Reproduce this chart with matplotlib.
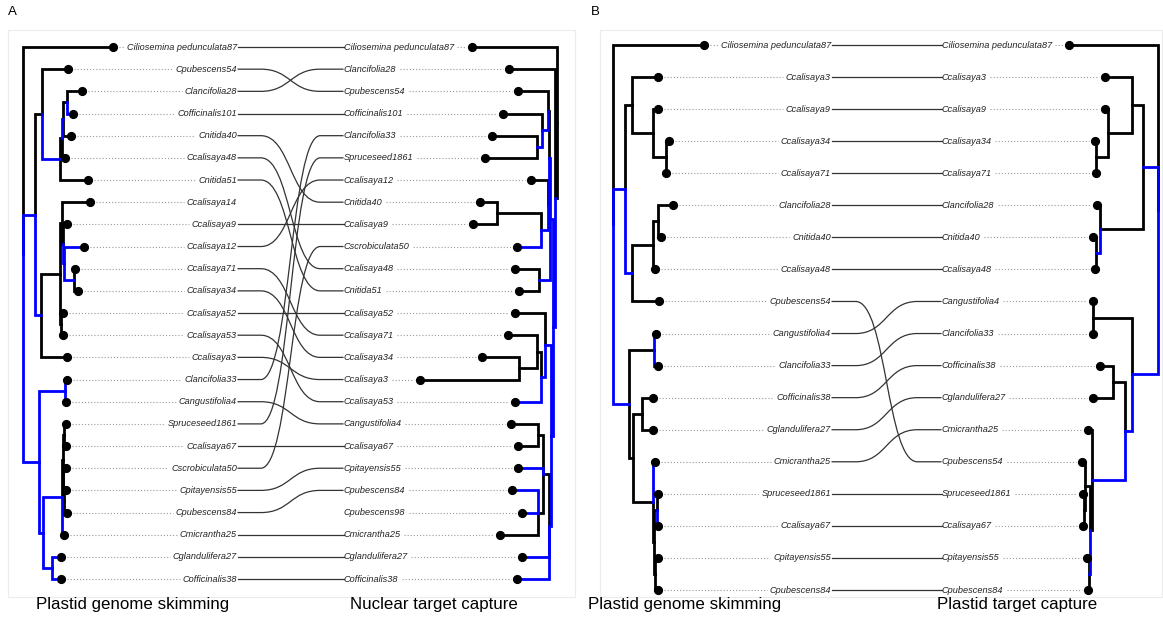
import matplotlib
matplotlib.use("Agg")
import matplotlib.pyplot as plt
from matplotlib.path import Path
from matplotlib.patches import PathPatch, Rectangle

plt.rcParams['font.family'] = ['Liberation Sans', 'DejaVu Sans']

# trees as newick, branch lengths in plot units, "*" = blue branch
tree_a_left = """
(Ciliosemina_pedunculata87:90,
 ((Cpubescens54:26,
   ((((Clancifolia28:15,Cofficinalis101:6*):4,Cnitida40:8):1*,Ccalisaya48:3):2,Cnitida51:28):18*):7,
  (((Ccalisaya14:28,(Ccalisaya9:4,(Ccalisaya12:20*,(Ccalisaya71:1,Ccalisaya34:4):10*):1*):1):2,
    (Ccalisaya52:2,Ccalisaya53:2):1):19,
   Ccalisaya3:26):6*):12*,
 ((Clancifolia33:2*,Cangustifolia4:0.5*):26*,
  ((((Spruceseed1861:2,Ccalisaya67:2):1.5,(Cscrobiculata50:3,(Cpitayensis55:2,Cpubescens84:2.5):1):0.5):0.5,
     Cmicrantha25:2*):19*,
   (Cglandulifera27:9*,Cofficinalis38:9*):9*):4*):16*);
"""

tree_a_right = """
(Ciliosemina_pedunculata87:85,
 (Clancifolia28:46,
  ((((Cpubescens54:30,(Cofficinalis101:39,(Clancifolia33:45,Spruceseed1861:52):5*):6*):1,
     (Ccalisaya12:17,((Cnitida40:17,Ccalisaya9:24):44,Cscrobiculata50:24*):7*):1*):1*,
    (Ccalisaya48:24,Cnitida51:20):11*):3*,
   ((Ccalisaya52:30,((Ccalisaya71:29,(Ccalisaya34:37,Ccalisaya3:99):18):4,Ccalisaya53:26*):4*):6*,
    (((Cangustifolia4:27,Ccalisaya67:20):5,Cpitayensis55:25*,
      (Cpubescens84:26*,Cpubescens98:16*,Cmicrantha25:38):5):6,
     Cglandulifera27:27*,Cofficinalis38:32*):2*):2*):2*):2);
"""

tree_b_left = """
(Ciliosemina_pedunculata87:91,
 ((Ccalisaya3:26,(Ccalisaya9:5,(Ccalisaya34:3,Ccalisaya71:0.3):13):21):7,
  (((Clancifolia28:15,Cnitida40:3):5,Ccalisaya48:2):21,Cpubescens54:27):7*):12*,
 ((Cangustifolia4:2*,Clancifolia33:4*):25,
  ((Cofficinalis38:11,Cglandulifera27:11):9,
   (Cmicrantha25:2*,((Spruceseed1861:1,Ccalisaya67:1*):3,(Cpitayensis55:3,Cpubescens84:3):1):1):20):4):16*);
"""

tree_b_right = """
(Ciliosemina_pedunculata87:89,
 ((Ccalisaya3:27,(Ccalisaya9:3,(Ccalisaya34:1,Ccalisaya71:0.3):12):24):11,
  (Clancifolia28:3,(Cnitida40:3,Ccalisaya48:1):4*):43):15*,
 ((Cangustifolia4:0.3,Clancifolia33:0.3):39,
  ((Cofficinalis38:13,Cglandulifera27:20):12,
   (Cmicrantha25:4,((Cpubescens54:3,(Spruceseed1861:1,Ccalisaya67:1):1):5,
                    (Cpitayensis55:2,Cpubescens84:1):1*):2):33*):7*):26*);
"""

panel_letters = ["A", "B"]
bottom_titles = [["Plastid genome skimming", "Nuclear target capture"],
                 ["Plastid genome skimming", "Plastid target capture"]]

BLUE = "#0000ff"


def parse_newick(text):
    s = "".join(text.split())
    pos = 0

    def read():
        nonlocal pos
        kids = []
        if s[pos] == "(":
            pos += 1
            kids.append(read())
            while s[pos] == ",":
                pos += 1
                kids.append(read())
            pos += 1
        st = pos
        while s[pos] not in ":,();*":
            pos += 1
        name = s[st:pos].replace("_", " ")
        length = 0.0
        if s[pos] == ":":
            pos += 1
            st = pos
            while s[pos] in "0123456789.":
                pos += 1
            length = float(s[st:pos])
        blue = False
        if s[pos] == "*":
            blue = True
            pos += 1
        return {"name": name, "len": length, "blue": blue, "kids": kids}

    return read()


def place(node, depth, tips):
    node["depth"] = depth + node["len"]
    if node["kids"]:
        for k in node["kids"]:
            place(k, node["depth"], tips)
        node["row"] = (node["kids"][0]["row"] + node["kids"][-1]["row"]) / 2
    else:
        node["row"] = len(tips)
        tips.append(node["name"])


def draw_tree(ax, text, x_root, sign, y_top, dy):
    tree = parse_newick(text)
    place(tree, 0.0, [])
    tips = {}

    def draw(node):
        x = x_root + sign * node["depth"]
        y = y_top + dy * node["row"]
        for k in node["kids"]:
            kx = x_root + sign * k["depth"]
            ky = y_top + dy * k["row"]
            col = BLUE if k["blue"] else "black"
            ax.plot([x, x, kx], [y, ky, ky], color=col, lw=2.0,
                    solid_joinstyle="miter", solid_capstyle="projecting",
                    zorder=3 if k["blue"] else 2)
            draw(k)
        if not node["kids"]:
            ax.plot(x, y, "o", color="black", ms=5.6, zorder=5)
            tips[node["name"]] = (x, y)

    draw(tree)
    return tips


def text_span(t, renderer):
    bb = t.get_window_extent(renderer)
    inv = ax.transData.inverted()
    x0 = inv.transform((bb.x0, bb.y0))[0]
    x1 = inv.transform((bb.x1, bb.y0))[0]
    return x0, x1


def connector(x0, y0, x1, y1):
    if abs(y0 - y1) < 0.1:
        ax.plot([x0, x1], [y0, y1], color="#333333", lw=0.9, zorder=1)
        return
    g = x1 - x0
    a = x0 + 0.22 * g
    b = x1 - 0.22 * g
    m = (a + b) / 2
    verts = [(x0, y0), (a, y0), (m, y0), (m, y1), (b, y1), (x1, y1)]
    codes = [Path.MOVETO, Path.LINETO, Path.CURVE4, Path.CURVE4, Path.CURVE4, Path.LINETO]
    ax.add_patch(PathPatch(Path(verts, codes), fill=False, ec="#333333", lw=0.9, zorder=1))


fig = plt.figure(figsize=(11.63, 6.4), dpi=100)
ax = fig.add_axes([0, 0, 1, 1])
ax.set_xlim(0, 1163)
ax.set_ylim(640, 0)
ax.axis("off")
renderer = fig.canvas.get_renderer()

panels = [
    dict(left=tree_a_left, right=tree_a_right, lroot=23, rroot=557, ltext=237, rtext=344,
         top=47, dy=22.17, box=(8, 30, 567, 567), letter_x=8, title_x=(36, 350)),
    dict(left=tree_b_left, right=tree_b_right, lroot=613, rroot=1158, ltext=831, rtext=942,
         top=45, dy=32.06, box=(600, 30, 562, 567), letter_x=591, title_x=(588, 937)),
]

lab_kw = dict(fontsize=6.6, style="italic", color="#222222", va="center")
dot_kw = dict(color="#9a9a9a", lw=0.8, ls=(0, (1, 1.8)), zorder=1)

for p, letter, titles in zip(panels, panel_letters, bottom_titles):
    bx, by, bw, bh = p["box"]
    ax.add_patch(Rectangle((bx, by), bw, bh, fill=False, ec="#ececec", lw=0.8, zorder=0))
    ax.text(p["letter_x"], 12, letter, fontsize=9.5, ha="left", va="center")
    ax.text(p["title_x"][0], 604, titles[0], fontsize=12.2, ha="left", va="center")
    ax.text(p["title_x"][1], 604, titles[1], fontsize=12.2, ha="left", va="center")

    ltips = draw_tree(ax, p["left"], p["lroot"], 1, p["top"], p["dy"])
    rtips = draw_tree(ax, p["right"], p["rroot"], -1, p["top"], p["dy"])

    lend = {}
    for name, (x, y) in ltips.items():
        t = ax.text(p["ltext"], y, name, ha="right", **lab_kw)
        x0, x1 = text_span(t, renderer)
        if x0 - 3 > x + 6:
            ax.plot([x + 6, x0 - 3], [y, y], **dot_kw)
        lend[name] = (x1 + 0.5, y)

    rstart = {}
    for name, (x, y) in rtips.items():
        t = ax.text(p["rtext"], y, name, ha="left", **lab_kw)
        x0, x1 = text_span(t, renderer)
        if x - 6 > x1 + 3:
            ax.plot([x1 + 3, x - 6], [y, y], **dot_kw)
        rstart[name] = (x0 - 0.5, y)

    for name in lend:
        if name in rstart:
            connector(lend[name][0], lend[name][1], rstart[name][0], rstart[name][1])

fig.savefig("out.png", dpi=100)
